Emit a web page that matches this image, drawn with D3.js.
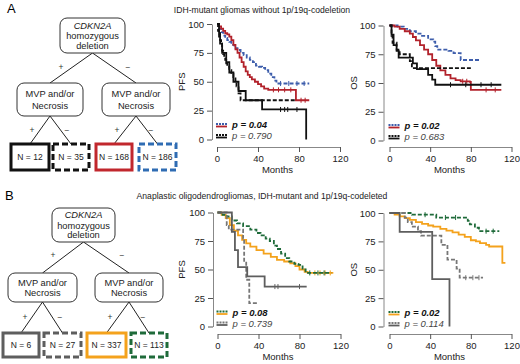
<!DOCTYPE html>
<html>
<head>
<meta charset="utf-8">
<script src="https://cdn.jsdelivr.net/npm/d3@7"></script>
<style>
  body { margin: 0; background: #fff; }
  svg { font-family: "Liberation Sans", Arial, sans-serif; }
</style>
</head>
<body>
<div id="chart"></div>
<script>
// ---- data ----
const monthTicks = [0, 40, 80, 120]
const survTicks = [0, 25, 50, 75, 100]

const titleA = 'IDH-mutant gliomas without 1p/19q-codeletion'
const titleB = 'Anaplastic oligodendrogliomas, IDH-mutant and 1p/19q-codeleted'
const leafN_A = ['N = 12', 'N = 35', 'N = 168', 'N = 186']
const leafN_B = ['N = 6', 'N = 27', 'N = 337', 'N = 113']
const pA = { pfs: ['p = 0.04', 'p = 0.790'], os: ['p = 0.02', 'p = 0.683'] }
const pB = { pfs: ['p = 0.08', 'p = 0.739'], os: ['p = 0.02', 'p = 0.114'] }

// [months, survival %], step-after
const pfsA_blue = [[0,100],[2,96],[4,93],[6,90],[8,88],[10,86],[12,84.5],[14,82],[17,79],[20,77.5],[23,75],[26,73],[29,71],[32,69],[35,67],[38,64],[41,63],[44,62],[47,60],[50,57],[53,54],[56,51],[58,48.5],[90,48.5]]
const pfsA_red = [[0,100],[2,98],[4,96],[6,94],[8,92],[10,91],[12,89],[14,86],[16,82],[18,78],[20,75],[22,71],[24,67],[26,63],[28,59],[30,56],[32,54],[34,52],[37,50],[40,48],[43,46],[46,44],[50,43],[76,43],[77,34],[90,34]]
const pfsA_blackDash = [[0,100],[1,94],[2,89],[3,86],[4,83],[5,77],[6,74],[7,71],[8,69],[9,66],[10,63],[12,60],[14,57],[16,54],[18,51],[19,46],[21,40],[23,34],[76,34]]
const pfsA_black = [[0,100],[2,92],[3,83],[5,75],[9,67],[12,58],[16,50],[21,42],[28,34],[44,26],[87,26],[87,0]]

const osA_blue = [[0,100],[8,99],[14,97],[20,95],[26,93],[32,91],[38,88],[43,86],[45,82],[47,79],[58,78],[63,76],[70,70],[90,70]]
const osA_red = [[0,100],[5,99],[10,97],[15,95],[20,93],[23,90],[26,87],[30,83],[34,79],[38,75],[42,70],[46,65],[50,61],[55,57],[60,54],[65,52.5],[70,51.5],[79,51],[80,44],[110,44]]
const osA_blackDash = [[0,100],[2,91],[3,85],[7,79],[10,75],[20,69],[22,63],[80,63]]
const osA_black = [[0,100],[2,92],[4,83],[7,78],[9,72],[23,67],[27,62],[38,57],[42,53],[45,48.5],[110,48.5]]

const pfsB_green = [[0,100],[5,98],[9,96.5],[14,93],[19,90.5],[25,88],[32,85],[38,82],[42,80],[47,77],[51,75],[55,71],[58,68],[62,64],[66,60],[70,57],[75,55],[79,54],[83,50],[86,47],[111,47]]
const pfsB_orange = [[0,100],[4,98],[8,95],[12,89],[16,84],[20,80],[24,76],[28,73],[32,70],[38,67],[45,64],[52,61],[58,58.5],[65,57],[71,55.5],[76,53],[80,50],[85,48],[88,47],[113,47]]
const pfsB_gray = [[0,100],[14,83],[17,67],[20,52],[29,44],[46,35],[87,35]]
const pfsB_grayDash = [[0,100],[9,89],[11,85],[25,77],[26,56],[28,41],[31,20.5],[39,20.5]]

const osB_green = [[0,100],[22,98.5],[46,96],[77,93],[79,90],[84,87],[88,84],[108,84]]
const osB_orange = [[0,100],[5,98.5],[10,97],[15,95.5],[20,94],[26,92],[32,90.5],[38,89],[43,88],[50,86],[56,84.5],[62,83],[68,81],[74,79],[80,76],[85,75],[89,73.5],[95,72],[98,70.5],[110,70.5],[111,56],[114,56]]
const osB_gray = [[0,100],[10,83.3],[42,41.7],[59,41.7],[59,0]]
const osB_grayDash = [[0,100],[15,96],[18,92],[22,88],[28,84],[31,80],[51,72],[57,59],[66,51],[69,43],[92,43]]

// censored times
const cens = {
  pfsA_black: [62, 66, 69, 78], pfsA_red: [55, 60, 66, 72, 82, 86], pfsA_blue: [62, 70, 78, 85],
  osA_black: [60, 75, 90, 100], osA_red: [72, 76, 95, 104],
  pfsB_gray: [56, 59, 80], pfsB_orange: [95, 100, 105, 110], pfsB_green: [90, 98, 104],
  osB_gray: [], osB_grayDash: [75, 82, 88], osB_green: [35, 55, 65, 95, 102]
}

// ---- drawing ----
const colors = {
  black: '#111', red: '#b2222b', blue: '#3d5dab',
  gray: '#5e5e5e', grayDash: '#777', orange: '#f4a21c', green: '#1f6b3a',
  boxRed: '#c1272d', boxBlue: '#2f6cb3', axis: '#888', text: '#222'
}

const svg = d3.select('#chart').append('svg')
  .attr('width', 520).attr('height', 364)

svg.append('text').attr('x', 7).attr('y', 13).attr('font-size', 13).text('A')
svg.append('text').attr('x', 5).attr('y', 200).attr('font-size', 13).text('B')
svg.append('text').attr('x', 262).attr('y', 12.5).attr('text-anchor', 'middle')
  .attr('font-size', 8.6).attr('fill', colors.text).text(titleA)
svg.append('text').attr('x', 262).attr('y', 199).attr('text-anchor', 'middle')
  .attr('font-size', 8.6).attr('fill', colors.text).text(titleB)

function stepAt(pts, t) {
  let v = pts[0][1]
  for (const p of pts) if (p[0] <= t) v = p[1]
  return v
}

function panel(cfg) {
  const x = d3.scaleLinear().domain([0, 120]).range([cfg.x0, cfg.x1])
  const y = d3.scaleLinear().domain([0, 100]).range([cfg.y0, cfg.y1])
  const g = svg.append('g')

  const ya = g.append('g').attr('transform', `translate(${cfg.ax},0)`)
    .call(d3.axisLeft(y).tickValues(survTicks).tickSize(5).tickSizeOuter(0).tickPadding(3))
  const xa = g.append('g').attr('transform', `translate(0,${cfg.ay})`)
    .call(d3.axisBottom(x).tickValues(monthTicks).tickSize(5).tickSizeOuter(0).tickPadding(3))
  for (const a of [ya, xa]) {
    a.select('.domain').attr('stroke', colors.axis)
    a.selectAll('.tick line').attr('stroke', '#555')
    a.selectAll('.tick text').attr('font-size', 9.5).attr('fill', colors.text)
      .attr('font-family', '"Liberation Sans", Arial, sans-serif')
  }

  g.append('text').attr('transform', `translate(${cfg.lx},${(cfg.y0 + cfg.y1) / 2}) rotate(-90)`)
    .attr('text-anchor', 'middle').attr('font-size', 9.5).attr('fill', colors.text).text(cfg.ylabel)
  g.append('text').attr('x', (cfg.x0 + cfg.x1) / 2 - 1).attr('y', cfg.ay + 26)
    .attr('text-anchor', 'middle').attr('font-size', 9.5).attr('fill', colors.text).text('Months')

  const line = d3.line().x(d => x(d[0])).y(d => y(d[1])).curve(d3.curveStepAfter)
  cfg.series.forEach(s => {
    g.append('path').datum(s.data).attr('d', line)
      .attr('fill', 'none').attr('stroke', s.color).attr('stroke-width', 1.8)
      .attr('stroke-dasharray', s.dash ? '4,2' : null)
    const c = cens[s.key] || []
    g.selectAll(null).data(c).join('line')
      .attr('x1', d => x(d)).attr('x2', d => x(d))
      .attr('y1', d => y(stepAt(s.data, d)) - 2.5).attr('y2', d => y(stepAt(s.data, d)) + 2.5)
      .attr('stroke', s.color).attr('stroke-width', 1)
  })

  // legend
  const lx = cfg.x0 - 1
  cfg.legend.forEach((r, i) => {
    const ly = cfg.legY + i * 11
    g.append('line').attr('x1', lx).attr('x2', lx + 11).attr('y1', ly - 4).attr('y2', ly - 4)
      .attr('stroke', r.dashColor).attr('stroke-width', 1.8).attr('stroke-dasharray', '2,1')
    g.append('line').attr('x1', lx).attr('x2', lx + 11).attr('y1', ly - 1.5).attr('y2', ly - 1.5)
      .attr('stroke', r.solidColor).attr('stroke-width', 1.8)
    g.append('text').attr('x', lx + 16).attr('y', ly).attr('font-size', 9.5)
      .attr('font-style', 'italic').attr('font-weight', i === 0 ? 'bold' : 'normal')
      .attr('fill', i === 0 ? '#111' : '#444').text(r.text)
  })
}

panel({ x0: 217, x1: 340, y0: 139.5, y1: 24, ax: 212, ay: 147, lx: 185, ylabel: 'PFS', legY: 128,
  series: [
    { key: 'pfsA_blue', data: pfsA_blue, color: colors.blue, dash: true },
    { key: 'pfsA_red', data: pfsA_red, color: colors.red },
    { key: 'pfsA_blackDash', data: pfsA_blackDash, color: colors.black, dash: true },
    { key: 'pfsA_black', data: pfsA_black, color: colors.black }],
  legend: [{ dashColor: colors.blue, solidColor: colors.red, text: pA.pfs[0] },
           { dashColor: colors.black, solidColor: colors.black, text: pA.pfs[1] }] })

panel({ x0: 389.5, x1: 511.5, y0: 140.5, y1: 25.5, ax: 383.5, ay: 147, lx: 357, ylabel: 'OS', legY: 129,
  series: [
    { key: 'osA_blue', data: osA_blue, color: colors.blue, dash: true },
    { key: 'osA_red', data: osA_red, color: colors.red },
    { key: 'osA_blackDash', data: osA_blackDash, color: colors.black, dash: true },
    { key: 'osA_black', data: osA_black, color: colors.black }],
  legend: [{ dashColor: colors.blue, solidColor: colors.red, text: pA.os[0] },
           { dashColor: colors.black, solidColor: colors.black, text: pA.os[1] }] })

panel({ x0: 217.5, x1: 340.5, y0: 326.5, y1: 212.5, ax: 213, ay: 334, lx: 185, ylabel: 'PFS', legY: 315.5,
  series: [
    { key: 'pfsB_orange', data: pfsB_orange, color: colors.orange },
    { key: 'pfsB_green', data: pfsB_green, color: colors.green, dash: true },
    { key: 'pfsB_grayDash', data: pfsB_grayDash, color: colors.grayDash, dash: true },
    { key: 'pfsB_gray', data: pfsB_gray, color: colors.gray }],
  legend: [{ dashColor: colors.green, solidColor: colors.orange, text: pB.pfs[0] },
           { dashColor: colors.grayDash, solidColor: colors.gray, text: pB.pfs[1] }] })

panel({ x0: 389.5, x1: 511.5, y0: 326.5, y1: 213, ax: 383.5, ay: 334, lx: 357, ylabel: 'OS', legY: 316,
  series: [
    { key: 'osB_orange', data: osB_orange, color: colors.orange },
    { key: 'osB_green', data: osB_green, color: colors.green, dash: true },
    { key: 'osB_grayDash', data: osB_grayDash, color: colors.grayDash, dash: true },
    { key: 'osB_gray', data: osB_gray, color: colors.gray }],
  legend: [{ dashColor: colors.green, solidColor: colors.orange, text: pB.os[0] },
           { dashColor: colors.grayDash, solidColor: colors.gray, text: pB.os[1] }] })

// ---- decision trees ----
function tree(t) {
  const g = svg.append('g')
  const edge = (x1, y1, x2, y2) => g.append('line').attr('x1', x1).attr('y1', y1).attr('x2', x2).attr('y2', y2)
    .attr('stroke', '#222').attr('stroke-width', 1)
  const rootCx = (t.root[0] + t.root[1]) / 2
  const midCx = t.mid.map(m => (m[0] + m[1]) / 2)
  edge(rootCx, t.root[3], midCx[0], t.midY[0])
  edge(rootCx, t.root[3], midCx[1], t.midY[0])
  t.leaves.forEach((l, i) => {
    const m = midCx[Math.floor(i / 2)]
    edge(m, t.midY[1], (l[0] + l[1]) / 2, t.leafY[0])
  })

  const box = (x0, x1, y0, y1) => g.append('rect').attr('x', x0).attr('y', y0)
    .attr('width', x1 - x0).attr('height', y1 - y0).attr('rx', 7)
    .attr('fill', '#fff').attr('stroke', '#333').attr('stroke-width', 1)
  box(t.root[0], t.root[1], t.root[2], t.root[3])
  t.mid.forEach(m => box(m[0], m[1], t.midY[0], t.midY[1]))

  const txt = (x, y, s, italic) => g.append('text').attr('x', x).attr('y', y)
    .attr('text-anchor', 'middle').attr('dominant-baseline', 'central')
    .attr('font-size', 9.3).attr('fill', colors.text)
    .attr('font-style', italic ? 'italic' : 'normal').text(s)
  const ry = t.root[2], rh = t.root[3] - t.root[2]
  txt(rootCx, ry + rh * 0.22, 'CDKN2A', true)
  txt(rootCx, ry + rh * 0.52, 'homozygous')
  txt(rootCx, ry + rh * 0.8, 'deletion')
  const mh = t.midY[1] - t.midY[0]
  midCx.forEach(cx => {
    txt(cx, t.midY[0] + mh * 0.34, 'MVP and/or')
    txt(cx, t.midY[0] + mh * 0.7, 'Necrosis')
  })

  t.signs.forEach(s => g.append('text').attr('x', s[0]).attr('y', s[1])
    .attr('text-anchor', 'middle').attr('dominant-baseline', 'central')
    .attr('font-size', 8.5).attr('fill', '#333').text(s[2]))

  t.leaves.forEach((l, i) => {
    g.append('rect').attr('x', l[0]).attr('y', t.leafY[0])
      .attr('width', l[1] - l[0]).attr('height', t.leafY[1] - t.leafY[0])
      .attr('fill', '#fff').attr('stroke', t.leafColor[i]).attr('stroke-width', 3)
      .attr('stroke-dasharray', i % 2 ? '6,3' : null)
    g.append('text').attr('x', (l[0] + l[1]) / 2).attr('y', (t.leafY[0] + t.leafY[1]) / 2)
      .attr('text-anchor', 'middle').attr('dominant-baseline', 'central')
      .attr('font-size', 8.5).attr('fill', colors.text).text(t.labels[i])
  })
}

tree({ root: [60, 125, 18, 53], mid: [[17, 83], [102, 170]], midY: [83, 116], leafY: [144, 170],
  leaves: [[11, 49], [53, 89], [96, 132], [139, 176]],
  leafColor: [colors.black, colors.black, colors.boxRed, colors.boxBlue], labels: leafN_A,
  signs: [[61, 67, '+'], [128, 67, '\u2212'], [32, 130, '+'], [67, 130, '\u2212'], [117, 130, '+'], [151, 130, '\u2212']] })

tree({ root: [52, 115, 208, 242], mid: [[8, 77], [95, 163]], midY: [273, 302], leafY: [333, 357],
  leaves: [[3, 39], [44, 81], [87, 126], [131, 167]],
  leafColor: [colors.gray, colors.gray, colors.orange, colors.green], labels: leafN_B,
  signs: [[53, 255, '+'], [122, 255, '\u2212'], [25, 317, '+'], [60, 317, '\u2212'], [110, 317, '+'], [143, 317, '\u2212']] })
</script>
</body>
</html>
